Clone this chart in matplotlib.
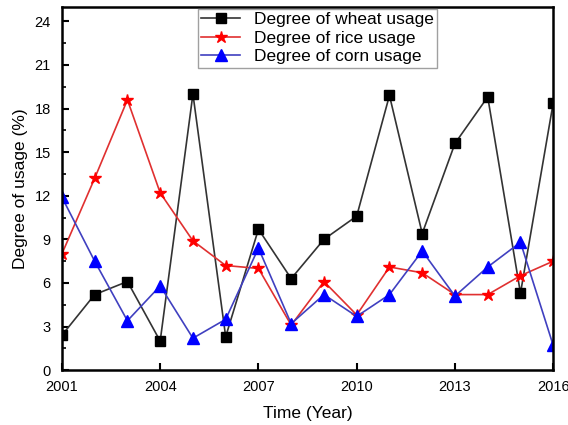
import numpy as np
import matplotlib.pyplot as plt
from matplotlib.ticker import MultipleLocator

years = list(range(2001, 2017))
wheat = [2.4, 5.2, 6.1, 2.0, 19.0, 2.3, 9.7, 6.3, 9.0, 10.6, 18.9, 9.4, 15.6, 18.8, 5.3, 18.4]
rice = [8.0, 13.2, 18.6, 12.2, 8.9, 7.2, 7.0, 3.1, 6.1, 3.8, 7.1, 6.7, 5.2, 5.2, 6.5, 7.5]
corn = [11.9, 7.5, 3.4, 5.8, 2.2, 3.5, 8.4, 3.2, 5.2, 3.7, 5.2, 8.2, 5.1, 7.1, 8.8, 1.7]

plt.rcParams['font.family'] = ['Liberation Sans', 'DejaVu Sans']

fig = plt.figure(figsize=(5.68, 4.25), dpi=100)
ax = fig.add_axes([0.109, 0.129, 0.865, 0.855])

ax.plot(years, wheat, color='#333333', marker='s', markersize=7, mfc='black', mec='black',
        lw=1.2, label='Degree of wheat usage')
ax.plot(years, rice, color='#e03030', marker='*', markersize=9, mfc='red', mec='red',
        lw=1.2, label='Degree of rice usage')
ax.plot(years, corn, color='#4040c0', marker='^', markersize=8, mfc='blue', mec='blue',
        lw=1.2, label='Degree of corn usage')

ax.set_xlim(2001, 2016)
ax.set_ylim(0, 25)
ax.xaxis.set_major_locator(MultipleLocator(3))
ax.yaxis.set_major_locator(MultipleLocator(3))
ax.yaxis.set_minor_locator(MultipleLocator(1.5))
ax.tick_params(which='both', direction='in', labelsize=10.5, top=False, right=False)
ax.tick_params(which='major', length=5, width=1.5)
ax.tick_params(which='minor', length=3, width=1.2)
ax.tick_params(axis='x', which='major', pad=7)
ax.tick_params(axis='y', which='major', pad=8)
ax.tick_params(axis='x', which='minor', bottom=False)
for s in ax.spines.values():
    s.set_linewidth(1.8)

ax.set_xlabel('Time (Year)', fontsize=12.5, labelpad=9)
ax.set_ylabel('Degree of usage (%)', fontsize=12.5, labelpad=5)

leg = ax.legend(loc='upper center', bbox_to_anchor=(0.52, 1.0), fontsize=12.5,
                frameon=True, fancybox=False, edgecolor='#888888',
                handlelength=2.2, borderpad=0.2, labelspacing=0.2, borderaxespad=0.1)
leg.get_frame().set_linewidth(1.0)

fig.savefig('out.png', dpi=100)
